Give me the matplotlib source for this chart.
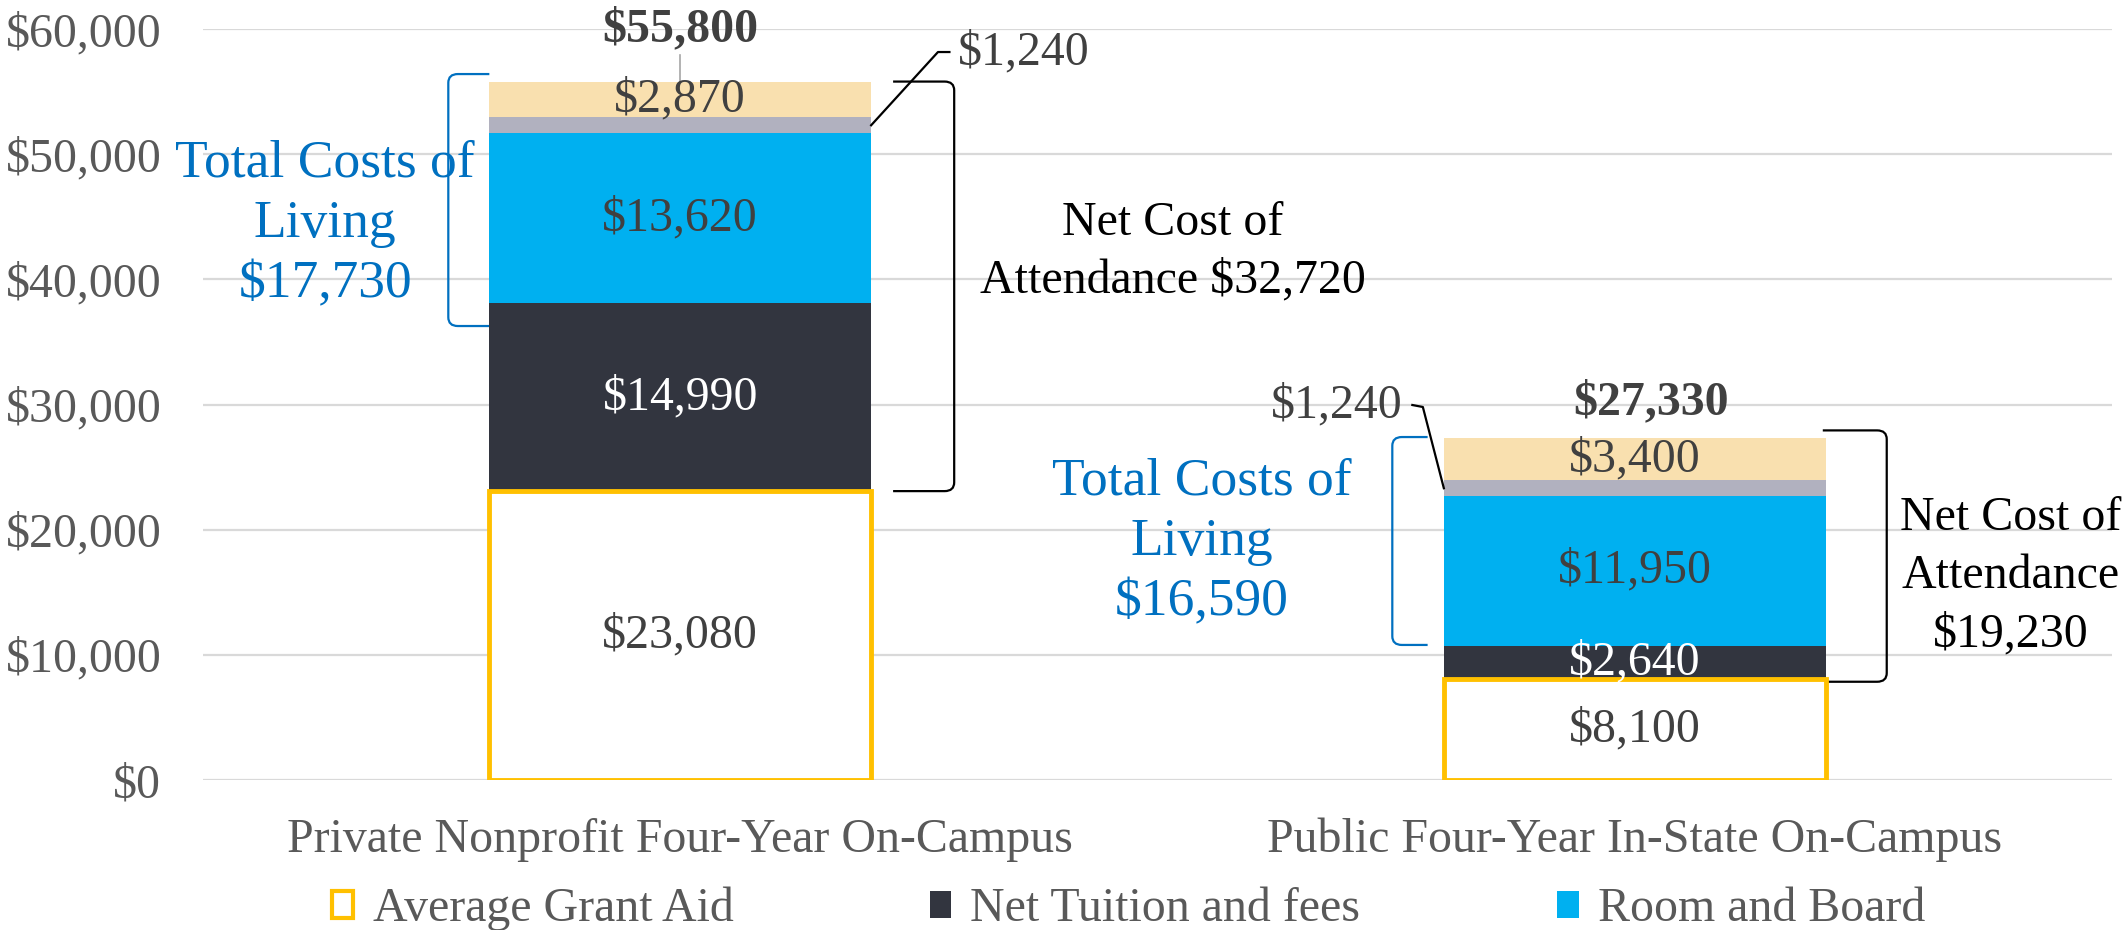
import matplotlib
matplotlib.use("Agg")
import matplotlib.pyplot as plt
import matplotlib.patches as patches
from matplotlib.path import Path

plt.rcParams['font.family'] = ['Liberation Serif', 'DejaVu Serif']

# data
categories = ["Private Nonprofit Four-Year On-Campus", "Public Four-Year In-State On-Campus"]
grant_aid = [23080, 8100]
net_tuition = [14990, 2640]
room_board = [13620, 11950]
transport = [1240, 1240]
other = [2870, 3400]
totals = [55800, 27330]
living_totals = [17730, 16590]
net_costs = [32720, 19230]
yticks = [0, 10000, 20000, 30000, 40000, 50000, 60000]

GOLD = '#FFC000'
NAVY = '#32353F'
BLUE = '#00B0F0'
GRAY = '#B1B1BF'
BEIGE = '#F9E0AF'
TXT = '#404040'
TICK = '#595959'
LBLUE = '#0070C0'
FS = 34.5

def money(v):
    return "${:,}".format(v)

# rounded bracket, x_end = free ends, x_v = spine
def bracket(ax, x_end, x_v, y_bot, y_top, color, rx=0.01, ry=700):
    s = 1 if x_v > x_end else -1
    verts = [(x_end, y_top), (x_v - s*rx, y_top), (x_v, y_top), (x_v, y_top - ry),
             (x_v, y_bot + ry), (x_v, y_bot), (x_v - s*rx, y_bot), (x_end, y_bot)]
    codes = [Path.MOVETO, Path.LINETO, Path.CURVE3, Path.CURVE3,
             Path.LINETO, Path.CURVE3, Path.CURVE3, Path.LINETO]
    ax.add_patch(patches.PathPatch(Path(verts, codes), fill=False, edgecolor=color,
                                   lw=1.6, clip_on=False))

fig = plt.figure(figsize=(21.25, 9.3), dpi=100)
ax = fig.add_axes([203/2125, 1-780/930, (2112-203)/2125, (780-29)/930])

x = list(range(len(categories)))
w = 0.4
ax.bar(x, grant_aid, w, color='white', edgecolor=GOLD, lw=3.5, zorder=3)
b = grant_aid
ax.bar(x, net_tuition, w, bottom=b, color=NAVY, zorder=2)
b = [b[i] + net_tuition[i] for i in x]
ax.bar(x, room_board, w, bottom=b, color=BLUE, zorder=2)
b = [b[i] + room_board[i] for i in x]
ax.bar(x, transport, w, bottom=b, color=GRAY, zorder=2)
gray_mid = [b[i] + transport[i]/2 for i in x]
b = [b[i] + transport[i] for i in x]
ax.bar(x, other, w, bottom=b, color=BEIGE, zorder=2)

# segment labels
for i in x:
    ax.text(i, grant_aid[i]/2, money(grant_aid[i]), ha='center', va='center', fontsize=FS, color=TXT, zorder=5)
    y0 = grant_aid[i]
    ax.text(i, y0 + net_tuition[i]/2, money(net_tuition[i]), ha='center', va='center', fontsize=FS, color='white', zorder=5)
    y0 += net_tuition[i]
    ax.text(i, y0 + room_board[i]/2, money(room_board[i]), ha='center', va='center', fontsize=FS, color=TXT, zorder=5)
    y0 += room_board[i] + transport[i]
    ax.text(i, y0 + other[i]/2, money(other[i]), ha='center', va='center', fontsize=FS, color=TXT, zorder=5)

# totals
ax.plot([0, 0], [totals[0], totals[0] + 2150], color='#A6A6A6', lw=1.2, zorder=4, clip_on=False)
ax.text(0, totals[0] + 4150, money(totals[0]), ha='center', va='center', fontsize=FS,
        fontweight='bold', color=TXT, clip_on=False)
ax.text(1.017, totals[1] + 2870, money(totals[1]), ha='center', va='center', fontsize=FS,
        fontweight='bold', color=TXT)

# $1,240 callouts
ax.plot([0.2, 0.270, 0.282], [gray_mid[0], 58160, 58160], color='black', lw=1.6, zorder=4, clip_on=False)
ax.text(0.291, 58160, money(transport[0]), ha='left', va='center', fontsize=FS, color=TXT)
ax.plot([0.8, 0.778, 0.767], [gray_mid[1], 29800, 29960], color='black', lw=1.6, zorder=4)
ax.text(0.757, 29960, money(transport[1]), ha='right', va='center', fontsize=FS, color=TXT)

# total costs of living brackets
bracket(ax, -0.2, -0.243, 36270, 56400, LBLUE)
bracket(ax, 0.783, 0.746, 10790, 27400, LBLUE)
ax.text(-0.372, 44420, "Total Costs of\nLiving\n" + money(living_totals[0]), ha='center', va='center',
        fontsize=38.5, color=LBLUE, linespacing=1.34)
ax.text(0.546, 19015, "Total Costs of\nLiving\n" + money(living_totals[1]), ha='center', va='center',
        fontsize=38.5, color=LBLUE, linespacing=1.34)

# net cost brackets
bracket(ax, 0.223, 0.287, grant_aid[0], totals[0], 'black')
bracket(ax, 1.197, 1.264, grant_aid[1] - 250, totals[1] + 600, 'black')
ax.text(0.516, 42220, "Net Cost of\nAttendance " + money(net_costs[0]), ha='center', va='center',
        fontsize=FS, color='black', linespacing=1.38)
ax.text(1.394, 16300, "Net Cost of\nAttendance\n" + money(net_costs[1]), ha='center', va='center',
        fontsize=FS, color='black', linespacing=1.42)

ax.set_xlim(-0.5, 1.5)
ax.set_ylim(0, 60000)
ax.set_yticks(yticks)
ax.set_yticklabels([money(v) for v in yticks])
ax.set_xticks(x)
ax.set_xticklabels(categories)
ax.tick_params(axis='y', length=0, labelsize=FS, labelcolor=TICK, pad=30)
ax.tick_params(axis='x', length=0, labelsize=FS, labelcolor=TICK, pad=27)
ax.grid(axis='y', color='#D9D9D9', lw=1.6, zorder=0)
ax.set_axisbelow(True)
for s in ax.spines.values():
    s.set_visible(False)

handles = [patches.Patch(facecolor='white', edgecolor=GOLD, lw=3, label='Average Grant Aid'),
           patches.Patch(facecolor=NAVY, label='Net Tuition and fees'),
           patches.Patch(facecolor=BLUE, label='Room and Board')]
fig.legend(handles=handles, loc='center', bbox_to_anchor=(0.531, 1-909/930), ncol=3, frameon=False,
           fontsize=FS, labelcolor=TICK, handlelength=0.45, handleheight=0.5, handletextpad=0.4,
           columnspacing=4.1, borderpad=0)

fig.savefig('out.png', dpi=100)
